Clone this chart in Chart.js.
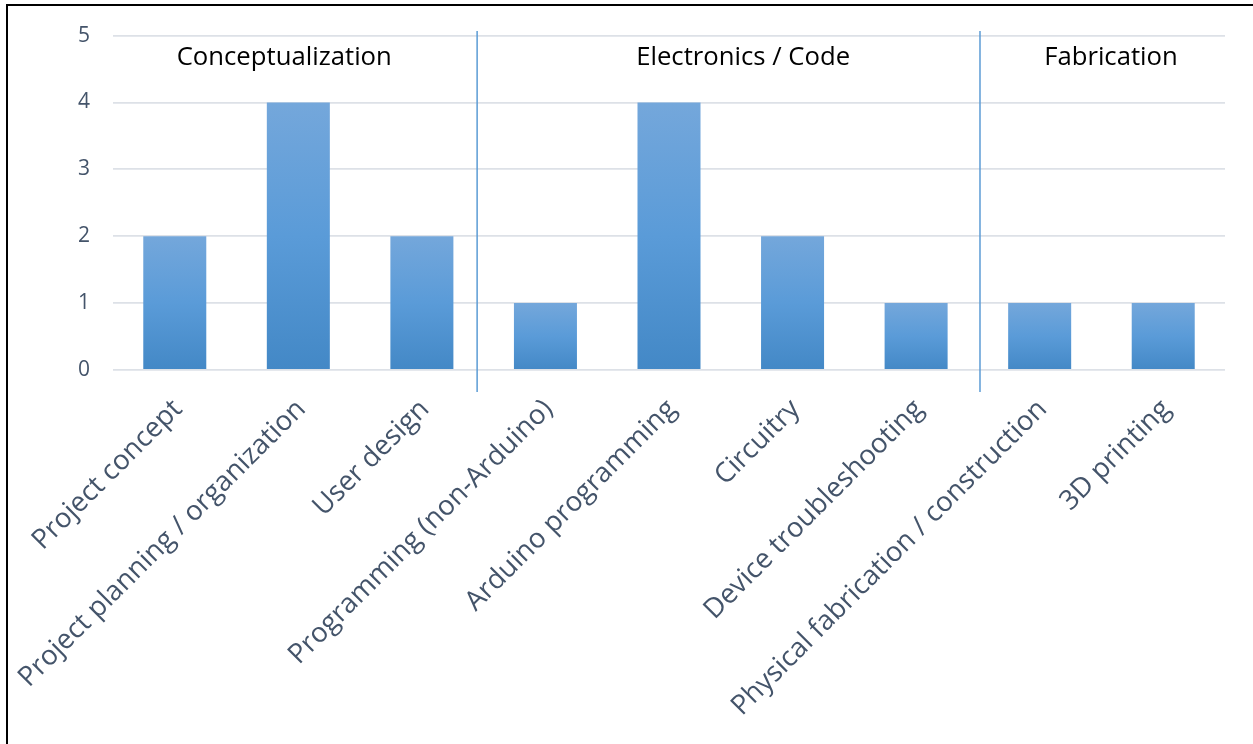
<!DOCTYPE html>
<html>
<head>
<meta charset="utf-8">
<script src="https://cdn.jsdelivr.net/npm/chart.js@4.4.1/dist/chart.umd.min.js"></script>
<style>
  html, body { margin: 0; padding: 0; background: #fff; overflow: hidden; }
  #wrap { position: relative; width: 1253px; height: 744px; }
  #frame { position: absolute; left: 6px; top: 4px; width: 1400px; height: 900px;
           border-left: 2px solid #000; border-top: 2px solid #000; pointer-events: none; }
  canvas { position: absolute; left: 0; top: 0; }
</style>
</head>
<body>
<div id="wrap">
  <canvas id="chart" width="1253" height="744"></canvas>
  <div id="frame"></div>
</div>
<script>
// Skills listed by participants, grouped into three areas
const categories = [
  'Project concept',
  'Project planning / organization',
  'User design',
  'Programming (non-Arduino)',
  'Arduino programming',
  'Circuitry',
  'Device troubleshooting',
  'Physical fabrication / construction',
  '3D printing'
];
const counts = [2, 4, 2, 1, 4, 2, 1, 1, 1];
const yTicks = [0, 1, 2, 3, 4, 5];

// Group headings and the dividers between groups (x in category-index units)
const groupNames = ['Conceptualization', 'Electronics / Code', 'Fabrication'];
const groupCentres = [0.886, 4.6, 7.577];
const groupLabelLevel = 4.67;
const dividerAt = [2.447, 6.517];
const dividerSpan = [-0.33, 5.07];

const FONT = '"Open Sans", sans-serif';

function barGradient(ctx) {
  const chart = ctx.chart;
  const y = chart.scales.y;
  if (!y || ctx.type !== 'data') return '#5b9bd5';
  const top = y.getPixelForValue(ctx.parsed.y);
  const base = y.getPixelForValue(0);
  if (!isFinite(top) || !isFinite(base)) return '#5b9bd5';
  const g = chart.ctx.createLinearGradient(0, top, 0, base);
  g.addColorStop(0, '#74a7db');
  g.addColorStop(0.5, '#5a9bd8');
  g.addColorStop(1, '#4388c6');
  return g;
}

const groupPlugin = {
  id: 'groups',
  afterDatasetsDraw(chart) {
    const { ctx, scales: { x, y } } = chart;
    ctx.save();
    ctx.strokeStyle = '#5b9bd5';
    ctx.lineWidth = 1.5;
    dividerAt.forEach(v => {
      const px = x.getPixelForValue(v);
      ctx.beginPath();
      ctx.moveTo(px, y.getPixelForValue(dividerSpan[1]));
      ctx.lineTo(px, y.getPixelForValue(dividerSpan[0]));
      ctx.stroke();
    });
    ctx.fillStyle = '#000';
    ctx.font = '25.7px ' + FONT;
    ctx.textAlign = 'center';
    ctx.textBaseline = 'middle';
    groupNames.forEach((name, i) => {
      ctx.fillText(name, x.getPixelForValue(groupCentres[i]), y.getPixelForValue(groupLabelLevel));
    });
    ctx.restore();
  }
};

new Chart(document.getElementById('chart'), {
  type: 'bar',
  data: {
    labels: categories,
    datasets: [{
      data: counts,
      backgroundColor: barGradient,
      borderWidth: 0,
      barPercentage: 0.51,
      categoryPercentage: 1.0
    }]
  },
  options: {
    responsive: false,
    animation: false,
    layout: { padding: { left: 0, right: 28, top: 33.5, bottom: 0 } },
    plugins: { legend: { display: false }, tooltip: { enabled: false } },
    scales: {
      x: {
        grid: { display: false, drawTicks: false },
        border: { display: false },
        ticks: {
          autoSkip: false,
          minRotation: 45,
          maxRotation: 45,
          padding: 23,
          labelOffset: 3,
          color: '#44546a',
          font: { family: FONT, size: 27.5 }
        },
        afterFit(scale) {
          scale.height = 374;
          scale.paddingLeft = 0;
          scale.paddingRight = 0;
        }
      },
      y: {
        min: 0,
        max: 5,
        afterBuildTicks(scale) { scale.ticks = yTicks.map(v => ({ value: v })); },
        grid: { color: '#dde1e7', lineWidth: 1.8, drawTicks: false },
        border: { display: false },
        ticks: {
          padding: 23,
          color: '#44546a',
          font: { family: FONT, size: 21 }
        },
        afterFit(scale) { scale.width = 113; }
      }
    }
  },
  plugins: [groupPlugin]
});
</script>
</body>
</html>
